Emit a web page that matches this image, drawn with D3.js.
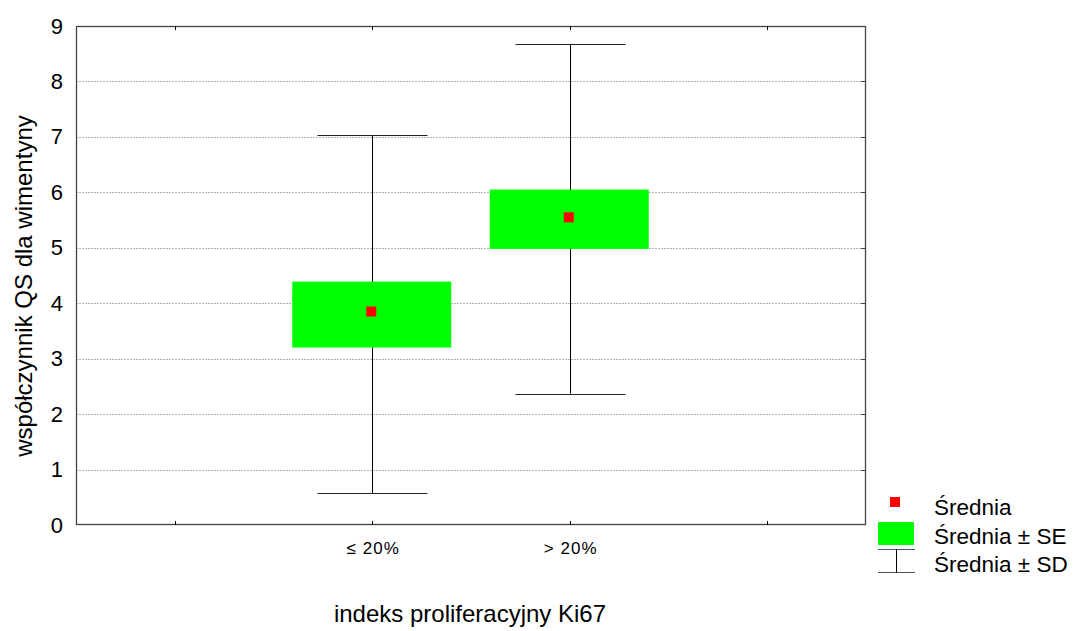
<!DOCTYPE html>
<html><head><meta charset="utf-8">
<script src="https://cdn.jsdelivr.net/npm/d3@7"></script>
<style>body{margin:0;background:#fff}svg{display:block}text{font-family:Arial,"Liberation Sans",sans-serif}</style>
</head><body>
<svg id="c" width="1085" height="631"></svg>
<script>
const slots = ["a", "≤ 20%", "> 20%", "b"];
const categories = ["≤ 20%", "> 20%"];
const means = [3.85, 5.55];
const seLow = [3.20, 4.98];
const seHigh = [4.39, 6.05];
const sdLow = [0.57, 2.37];
const sdHigh = [7.03, 8.68];
const yTicks = [0,1,2,3,4,5,6,7,8,9];

const svg = d3.select("#c");
const L = 76, R = 866, T = 26, B = 525;
const x = d3.scaleBand().domain(slots).range([L, R]);
const y = d3.scaleLinear().domain([0, 9]).range([B, T]);
const cx = d => x(d) + x.bandwidth() / 2;

// gridlines
svg.append("g").selectAll("line").data(yTicks.filter(v => v > 0 && v < 9)).join("line")
  .attr("x1", L).attr("x2", R).attr("y1", d => Math.round(y(d)) + 0.5).attr("y2", d => Math.round(y(d)) + 0.5)
  .attr("stroke", "#b5b5b5").attr("stroke-width", 1).attr("stroke-dasharray", "2,1");

// whiskers
const g = svg.append("g");
categories.forEach((c, i) => {
  const X = Math.round(cx(c)) + 0.5;
  g.append("line").attr("x1", X).attr("x2", X).attr("y1", y(sdLow[i])).attr("y2", y(sdHigh[i])).attr("stroke", "#000").attr("stroke-width", 1);
  [sdLow[i], sdHigh[i]].forEach(v => {
    g.append("line").attr("x1", X - 55).attr("x2", X + 55).attr("y1", Math.round(y(v)) + 0.5).attr("y2", Math.round(y(v)) + 0.5)
      .attr("stroke", "#222").attr("stroke-width", 1.2);
  });
  g.append("rect").attr("x", cx(c) - 80).attr("width", 159)
    .attr("y", y(seHigh[i])).attr("height", y(seLow[i]) - y(seHigh[i])).attr("fill", "#00ff00");
  g.append("rect").attr("x", cx(c) - 6).attr("y", y(means[i]) - 5).attr("width", 10).attr("height", 10).attr("fill", "#ff0000");
});

// frame
svg.append("rect").attr("x", L + 0.5).attr("y", T + 0.5).attr("width", R - L - 1).attr("height", B - T - 1)
  .attr("fill", "none").attr("stroke", "#444").attr("stroke-width", 1.3);

// axes
const yAxis = d3.axisLeft(y).tickValues(yTicks).tickSize(0).tickPadding(13);
const ya = svg.append("g").attr("transform", `translate(${L},0)`).call(yAxis);
ya.select(".domain").remove();
ya.selectAll("text").attr("font-size", 22).attr("fill", "#000");

const xAxis = d3.axisBottom(x).tickSize(0).tickPadding(29).tickFormat(d => categories.includes(d) ? d : "");
const xa = svg.append("g").attr("transform", `translate(0,${B})`).call(xAxis);
xa.select(".domain").remove();
xa.selectAll("text").attr("font-size", 17).attr("letter-spacing", 1.1).attr("fill", "#000").attr("dy", 0).attr("dx", 1);

// inner ticks
svg.append("g").selectAll("line").data(slots).join("line")
  .attr("x1", d => Math.round(cx(d)) + 0.5).attr("x2", d => Math.round(cx(d)) + 0.5).attr("y1", B).attr("y2", B - 4).attr("stroke", "#000");
svg.append("g").selectAll("line").data(slots).join("line")
  .attr("x1", d => Math.round(cx(d)) + 0.5).attr("x2", d => Math.round(cx(d)) + 0.5).attr("y1", T).attr("y2", T + 4).attr("stroke", "#000");
svg.append("g").selectAll("line").data(yTicks.filter(v => v > 0 && v < 9)).join("line")
  .attr("x1", R).attr("x2", R - 5).attr("y1", d => Math.round(y(d)) + 0.5).attr("y2", d => Math.round(y(d)) + 0.5).attr("stroke", "#444");

// titles
svg.append("text").attr("x", 470).attr("y", 622).attr("text-anchor", "middle").attr("font-size", 24).text("indeks proliferacyjny Ki67");
svg.append("text").attr("transform", `translate(32,286) rotate(-90)`).attr("text-anchor", "middle").attr("font-size", 24).text("współczynnik QS dla wimentyny");

// legend
const lg = svg.append("g");
lg.append("rect").attr("x", 890).attr("y", 497).attr("width", 10).attr("height", 10).attr("fill", "#ff0000");
lg.append("rect").attr("x", 878).attr("y", 522).attr("width", 36).attr("height", 23).attr("fill", "#00ff00");
lg.append("line").attr("x1", 878).attr("x2", 915).attr("y1", 549.5).attr("y2", 549.5).attr("stroke", "#555");
lg.append("line").attr("x1", 878).attr("x2", 915).attr("y1", 572.5).attr("y2", 572.5).attr("stroke", "#555");
lg.append("line").attr("x1", 896.5).attr("x2", 896.5).attr("y1", 549.5).attr("y2", 572.5).attr("stroke", "#000");
const lt = ["Średnia", "Średnia ± SE", "Średnia ± SD"];
lg.selectAll("text").data(lt).join("text").attr("x", 934).attr("y", (d, i) => [515, 544, 572][i])
  .attr("font-size", 22.5).text(d => d);
</script>
</body></html>
